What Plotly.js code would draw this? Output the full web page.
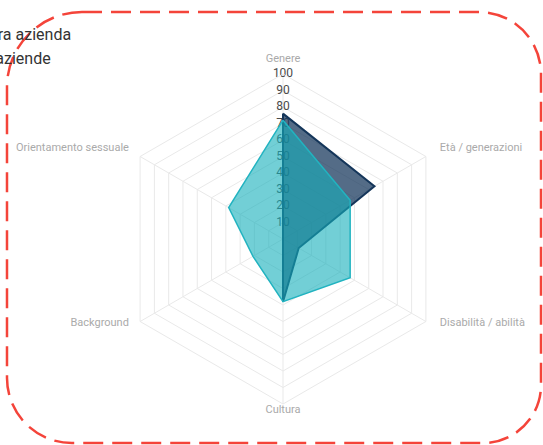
<!DOCTYPE html>
<html>
<head>
<meta charset="utf-8">
<script src="https://cdn.plot.ly/plotly-3.0.1.min.js"></script>
<style>
  html, body { margin: 0; padding: 0; background: #fff; }
  #chart { width: 543px; height: 445px; }
</style>
</head>
<body>
<div id="chart"></div>
<script>
// ---- data ----
const categories = ["Genere", "Età / generazioni", "Disabilità / abilità", "Cultura", "Background", "Orientamento sessuale"];
const seriesNames = ["La nostra azienda", "Altre aziende"];
const nostraAzienda = [76, 64, 11, 38, 0, 0];
const altreAziende = [72, 47, 47, 38, 21, 38];
const radialTicks = [0, 10, 20, 30, 40, 50, 60, 70, 80, 90, 100];
const radialTickLabels = ["0", "10", "20", "30", "40", "50", "60", "70", "80", "90", "100"];

const W = 543, H = 445;
const fx = px => px / W;
const fy = py => 1 - py / H;

function close(arr) { return arr.concat([arr[0]]); }

// category labels, padded away from the hexagon on the side axes
const NB = "\u00a0";
const labelText = categories.map((c, i) => {
  if (i === 1 || i === 2) return NB.repeat(4) + c;
  if (i === 4 || i === 5) return c + NB.repeat(3);
  return c;
});

const traces = [
  {
    type: "scatterpolar",
    mode: "text",
    r: radialTicks,
    theta: radialTicks.map(() => categories[0]),
    text: radialTickLabels,
    textposition: "middle center",
    textfont: { family: "Roboto, sans-serif", size: 12, color: "#4a4a4a" },
    hoverinfo: "skip",
    showlegend: false
  },
  {
    type: "scatterpolar",
    name: seriesNames[0],
    r: close(nostraAzienda),
    theta: close(categories),
    mode: "lines",
    fill: "toself",
    fillcolor: "rgba(21,54,90,0.73)",
    line: { color: "#15365a", width: 2 },
    hoverinfo: "skip"
  },
  {
    type: "scatterpolar",
    name: seriesNames[1],
    r: close(altreAziende),
    theta: close(categories),
    mode: "lines",
    fill: "toself",
    fillcolor: "rgba(20,175,187,0.6)",
    line: { color: "#22b3c0", width: 1.5 },
    hoverinfo: "skip"
  },
  {
    // carries the category labels (polar2), invisible
    type: "scatterpolar",
    subplot: "polar2",
    r: nostraAzienda,
    theta: categories,
    mode: "lines",
    opacity: 0,
    hoverinfo: "skip",
    showlegend: false
  }
];

// rounded dashed frame (px)
function roundedPath(x0, y0, x1, y1, rTL, rTR, rBR, rBL) {
  const k = 0.5523;
  const P = (x, y) => fx(x).toFixed(5) + "," + fy(y).toFixed(5);
  let d = "M" + P(x0 + rTL, y0);
  d += " L" + P(x1 - rTR, y0);
  d += " C" + P(x1 - rTR + k * rTR, y0) + " " + P(x1, y0 + rTR - k * rTR) + " " + P(x1, y0 + rTR);
  d += " L" + P(x1, y1 - rBR);
  d += " C" + P(x1, y1 - rBR + k * rBR) + " " + P(x1 - rBR + k * rBR, y1) + " " + P(x1 - rBR, y1);
  d += " L" + P(x0 + rBL, y1);
  d += " C" + P(x0 + rBL - k * rBL, y1) + " " + P(x0, y1 - rBL + k * rBL) + " " + P(x0, y1 - rBL);
  d += " L" + P(x0, y0 + rTL);
  d += " C" + P(x0, y0 + rTL - k * rTL) + " " + P(x0 + rTL - k * rTL, y0) + " " + P(x0 + rTL, y0);
  d += " Z";
  return d;
}

const cx = 283, cy = 239, R = 165;
const cy2 = 233, R2 = 168;

const layout = {
  width: W,
  height: H,
  margin: { l: 0, r: 0, t: 0, b: 0 },
  paper_bgcolor: "#fff",
  showlegend: false,
  font: { family: "Roboto, sans-serif" },
  polar: {
    domain: { x: [fx(cx - R), fx(cx + R)], y: [fy(cy + R), fy(cy - R)] },
    bgcolor: "#fff",
    gridshape: "linear",
    radialaxis: {
      range: [0, 100],
      tickvals: radialTicks,
      showticklabels: false,
      ticks: "",
      showline: false,
      gridcolor: "#e9e9e9",
      gridwidth: 1
    },
    angularaxis: {
      type: "category",
      categoryorder: "array",
      categoryarray: categories,
      rotation: 90,
      direction: "clockwise",
      ticks: "",
      showticklabels: false,
      showline: true,
      linecolor: "#e9e9e9",
      gridcolor: "#e9e9e9"
    }
  },
  polar2: {
    domain: { x: [fx(cx - R2), fx(cx + R2)], y: [fy(cy2 + R2), fy(cy2 - R2)] },
    bgcolor: "rgba(0,0,0,0)",
    gridshape: "linear",
    radialaxis: {
      range: [0, 100],
      visible: false,
      showgrid: false,
      showline: false,
      showticklabels: false,
      ticks: ""
    },
    angularaxis: {
      type: "category",
      categoryorder: "array",
      categoryarray: categories,
      tickmode: "array",
      tickvals: categories,
      ticktext: labelText,
      rotation: 90,
      direction: "clockwise",
      ticks: "",
      showline: false,
      showgrid: false,
      tickfont: { family: "Roboto, sans-serif", size: 11, color: "#aaa" }
    }
  },
  annotations: [
    { text: seriesNames[0], xref: "paper", yref: "paper", x: fx(73), y: fy(35), xanchor: "right", yanchor: "middle", showarrow: false, font: { size: 16, color: "#333", family: "Roboto, sans-serif" } },
    { text: seriesNames[1], xref: "paper", yref: "paper", x: fx(53), y: fy(58), xanchor: "right", yanchor: "middle", showarrow: false, font: { size: 16, color: "#333", family: "Roboto, sans-serif" } }
  ],
  shapes: [
    {
      type: "path",
      xref: "paper",
      yref: "paper",
      path: roundedPath(7, 12, 541, 443, 75, 62, 58, 65),
      line: { color: "#f4443a", width: 2.5, dash: "20px,9px" },
      fillcolor: "rgba(0,0,0,0)",
      layer: "above"
    }
  ]
};

Plotly.newPlot("chart", traces, layout, { staticPlot: true, displayModeBar: false });
</script>
</body>
</html>
